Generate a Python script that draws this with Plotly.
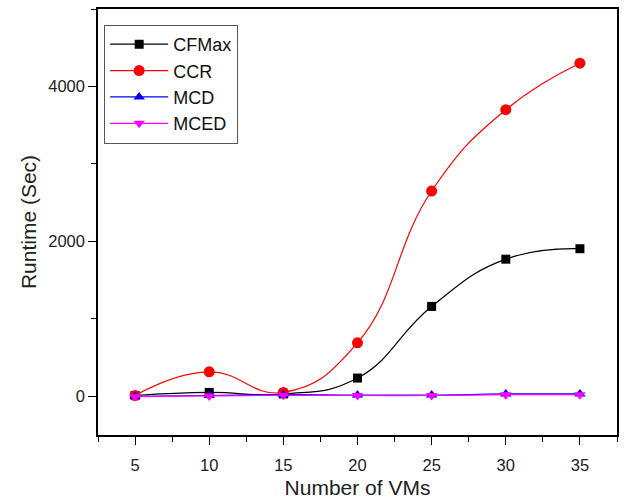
import plotly.graph_objects as go

vms = [5, 10, 15, 20, 25, 30, 35]
cfmax = [10, 50, 30, 235, 1160, 1770, 1905]
ccr = [10, 315, 50, 690, 2650, 3700, 4300]
mcd = [0, 10, 20, 15, 15, 30, 30]
mced = [-5, 5, 12, 10, 10, 20, 20]

series = [
    ("CFMax", cfmax, "#000000", "square", 9),
    ("CCR", ccr, "#FF0000", "circle", 11),
    ("MCD", mcd, "#0000FF", "triangle-up", 10),
    ("MCED", mced, "#FF00FF", "triangle-down", 10),
]

fig = go.Figure()
for name, vals, color, sym, msize in series:
    fig.add_trace(go.Scatter(
        x=vms, y=vals, name=name, mode="lines+markers",
        line=dict(color=color, width=1.2, shape="spline", smoothing=1.3),
        marker=dict(symbol=sym, size=msize, color=color),
    ))

axis_common = dict(
    showline=True, linecolor="black", linewidth=1.5, mirror=True,
    ticks="outside", ticklen=8, tickwidth=1.2, tickcolor="black",
    showgrid=False, zeroline=False,
    tickfont=dict(family="Liberation Sans, Arial", size=16.5, color="#222"),
)

fig.update_layout(
    width=629, height=503,
    margin=dict(l=98, r=12, t=7, b=66),
    paper_bgcolor="white", plot_bgcolor="white",
    font=dict(family="Liberation Sans, Arial", color="#222"),
    xaxis=dict(range=[2.5, 37.5], tick0=5, dtick=5, ticklabelstandoff=6,
               minor=dict(dtick=2.5, tick0=2.5, ticks="outside", ticklen=5, tickcolor="black"),
               title=dict(text="Number of VMs", font=dict(size=21), standoff=8),
               **axis_common),
    yaxis=dict(range=[-500, 5000], tick0=0, dtick=2000,
               minor=dict(dtick=1000, tick0=0, ticks="outside", ticklen=5, tickcolor="black"),
               title=dict(text="Runtime (Sec)", font=dict(size=21), standoff=6),
               **axis_common),
    legend=dict(x=0.0115, y=0.963, xanchor="left", yanchor="top",
                bordercolor="#555", borderwidth=1.2, bgcolor="white",
                font=dict(size=18, color="#111"), itemwidth=58,
                tracegroupgap=0),
    showlegend=True,
)

fig.write_html("out.html", config={"displayModeBar": False},
               post_script="document.body.style.margin='0';")
